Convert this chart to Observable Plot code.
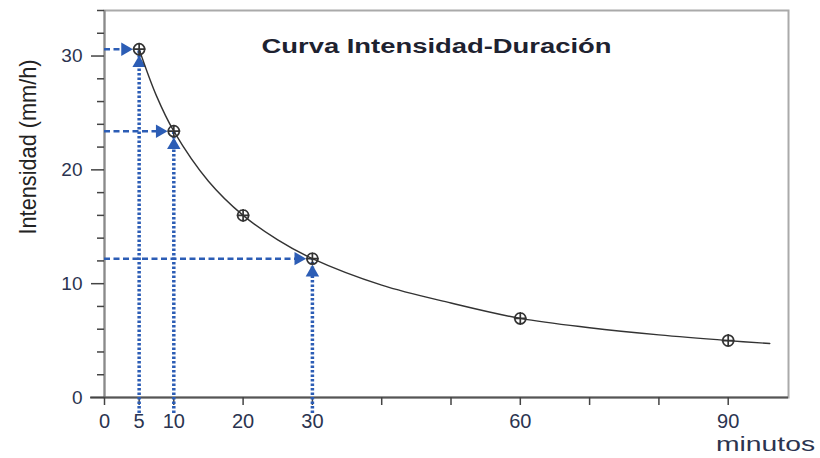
<!DOCTYPE html>
<html>
<head>
<meta charset="utf-8">
<script src="https://cdn.jsdelivr.net/npm/d3@7"></script>
<script src="https://cdn.jsdelivr.net/npm/@observablehq/plot@0.6"></script>
<style>
  html, body { margin: 0; padding: 0; background: #fff; }
  #chart { width: 820px; height: 458px; }
</style>
</head>
<body>
<div id="chart"></div>
<script>
// Measured points (duration in minutes, intensity in mm/h)
const durations = [5, 10, 20, 30, 60, 90];
const intensities = [30.6, 23.4, 16.0, 12.2, 6.95, 5.0];

// Fitted curve
const curveT = [5, 7.5, 10, 15, 20, 25, 30, 40, 50, 60, 70, 80, 90, 96];
const curveI = [30.6, 26.5, 23.4, 19.0, 16.0, 13.85, 12.2, 9.87, 8.3, 6.95, 6.13, 5.5, 5.0, 4.74];

// Points highlighted with reading arrows
const arrowT = [5, 10, 30];
const arrowI = [30.6, 23.4, 12.2];

// Axis ticks
const xTicks = [0, 5, 10, 20, 30, 40, 50, 60, 70, 80, 90];
const xTickLabels = ["0", "5", "10", "20", "30", "", "", "60", "", "", "90"];
const yTicks = [0, 10, 20, 30];
const yMinorTicks = [2, 4, 6, 8, 12, 14, 16, 18, 22, 24, 26, 28, 32, 34];

const title = "Curva Intensidad-Duración";
const yLabel = "Intensidad (mm/h)";
const xLabel = "minutos";

const points = durations.map((t, i) => ({t, v: intensities[i]}));
const curve = curveT.map((t, i) => ({t, v: curveI[i]}));
const arrows = arrowT.map((t, i) => ({t, v: arrowI[i]}));

const blue = "#2c5db5";
const textColor = "#2b3450";
const font = "'Liberation Sans', Arial, sans-serif";

const circlePlus = {
  draw(context, size) {
    const r = Math.sqrt(size / Math.PI);
    context.moveTo(r, 0);
    context.arc(0, 0, r, 0, 2 * Math.PI);
    context.moveTo(-r - 1, 0); context.lineTo(r + 1, 0);
    context.moveTo(0, -r - 1); context.lineTo(0, r + 1);
  }
};

const xLabelMap = new Map(xTicks.map((t, i) => [t, xTickLabels[i]]));

const plot = Plot.plot({
  width: 820,
  height: 458,
  marginTop: 10,
  marginRight: 32,
  marginBottom: 61,
  marginLeft: 104,
  style: {fontFamily: font, background: "#fff", overflow: "visible"},
  x: {domain: [0, 98.7]},
  y: {domain: [0, 34]},
  marks: [
    Plot.frame({stroke: "#aaa", strokeWidth: 2}),
    // y axis line
    Plot.ruleX([0], {stroke: "#8a8a8a", strokeWidth: 2}),
    // x axis line (extends left of y axis)
    Plot.ruleY([0], {stroke: "#555", strokeWidth: 2, insetLeft: -14}),
    Plot.axisY(yMinorTicks, {tickSize: 7, tickFormat: () => "", stroke: "#444", strokeWidth: 1.5, label: null}),
    Plot.axisY(yTicks, {tickSize: 13, tickPadding: 9, fontSize: 19, stroke: "#444", strokeWidth: 1.5, fill: textColor, label: null}),
    Plot.axisX(xTicks, {tickSize: 8, tickPadding: 8, fontSize: 20, stroke: "#444", strokeWidth: 1.5, fill: textColor, label: null,
      tickFormat: d => xLabelMap.get(d)}),
    // reading lines
    Plot.ruleY(arrows, {y: "v", x1: 0, x2: "t", stroke: blue, strokeWidth: 2.5, strokeDasharray: "6,3.5", insetRight: 16}),
    Plot.ruleX(arrows, {x: "t", y1: 0, y2: "v", stroke: blue, strokeWidth: 3.5, strokeDasharray: "2.5,2", insetTop: 16}),
    Plot.dot(arrows, {x: "t", y: "v", symbol: "triangle", r: 5, fill: blue, stroke: "none", rotate: 90, dx: -14}),
    Plot.dot(arrows, {x: "t", y: "v", symbol: "triangle", r: 5, fill: blue, stroke: "none", rotate: 0, dy: 14}),
    // curve
    Plot.line(curve, {x: "t", y: "v", curve: "catmull-rom", stroke: "#333", strokeWidth: 1.4}),
    // markers
    Plot.dot(points, {x: "t", y: "v", symbol: circlePlus, r: 5.5, stroke: "#333", strokeWidth: 1.7, fill: "none"}),
    // texts
    Plot.text([title], {frameAnchor: "top", textAnchor: "middle", lineAnchor: "middle", dx: -10, dy: 36, fontSize: 20, fontWeight: "bold", fill: "#1e2230"}),
    Plot.text([yLabel], {frameAnchor: "left", textAnchor: "middle", lineAnchor: "middle", rotate: -90, dx: -76, dy: -57, fontSize: 24, fill: "#222"}),
    Plot.text([xLabel], {frameAnchor: "bottom-right", textAnchor: "middle", lineAnchor: "middle", dx: -23, dy: 47, fontSize: 21, fill: textColor})
  ]
});

const svg = d3.select(plot);
const stretch = (str, len) => svg.selectAll("text")
  .filter(function() { return this.textContent === str; })
  .attr("textLength", len).attr("lengthAdjust", "spacingAndGlyphs");
stretch(title, 350);
stretch(yLabel, 175);
stretch(xLabel, 99);

document.getElementById("chart").appendChild(plot);
</script>
</body>
</html>
